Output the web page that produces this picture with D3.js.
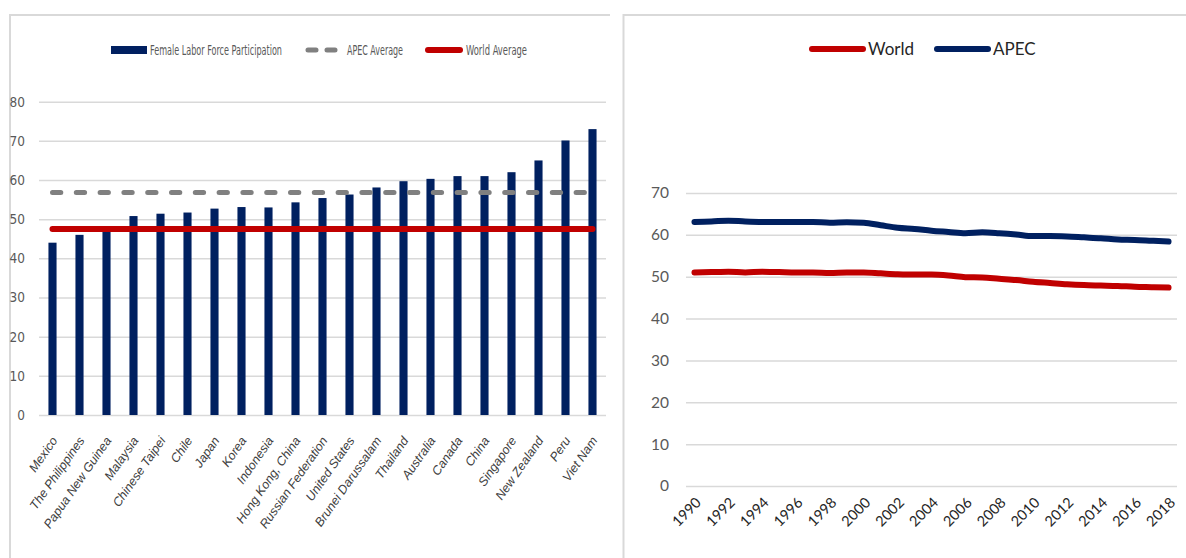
<!DOCTYPE html>
<html>
<head>
<meta charset="utf-8">
<script src="https://cdn.jsdelivr.net/npm/d3@7"></script>
<style>
  body { margin: 0; background: #fff; }
  svg { display: block; }
  .narrow { font-family: "Liberation Sans Narrow", "DejaVu Sans Condensed", sans-serif; font-stretch: condensed; fill: #595959; }
  .calib { font-family: Lato, "Noto Sans", sans-serif; }
  .ital { font-family: "Liberation Sans", "DejaVu Sans", sans-serif; font-style: italic; }
</style>
</head>
<body>
<script>
////////////
/// DATA ///
////////////

// left chart: female labor force participation by economy
var countries = ["Mexico", "The Philippines", "Papua New Guinea", "Malaysia", "Chinese Taipei",
                 "Chile", "Japan", "Korea", "Indonesia", "Hong Kong, China", "Russian Federation",
                 "United States", "Brunei Darussalam", "Thailand", "Australia", "Canada", "China",
                 "Singapore", "New Zealand", "Peru", "Viet Nam"];
var femaleLFP = [44.0, 46.0, 47.6, 50.8, 51.4, 51.7, 52.7, 53.1, 53.0, 54.3, 55.4,
                 56.3, 58.1, 59.7, 60.3, 61.0, 61.0, 62.0, 65.0, 70.1, 73.0];
var apecAverage = 56.8;
var worldAverage = 47.5;
var barTicks = [0, 10, 20, 30, 40, 50, 60, 70, 80];

// right chart: trend 1990-2018
var years = [1990, 1991, 1992, 1993, 1994, 1995, 1996, 1997, 1998, 1999, 2000, 2001, 2002, 2003, 2004,
             2005, 2006, 2007, 2008, 2009, 2010, 2011, 2012, 2013, 2014, 2015, 2016, 2017, 2018];
var worldSeries = [51.0, 51.1, 51.2, 51.0, 51.2, 51.1, 51.0, 51.0, 50.9, 51.0, 51.0, 50.8, 50.6, 50.5, 50.5,
                   50.3, 49.9, 49.8, 49.5, 49.2, 48.8, 48.5, 48.2, 48.0, 47.9, 47.8, 47.6, 47.5, 47.4];
var apecSeries = [63.1, 63.2, 63.4, 63.2, 63.1, 63.1, 63.1, 63.1, 62.9, 63.0, 62.9, 62.3, 61.7, 61.4, 61.0,
                  60.7, 60.4, 60.6, 60.4, 60.1, 59.7, 59.7, 59.6, 59.4, 59.2, 58.9, 58.8, 58.6, 58.4];
var lineTicks = [0, 10, 20, 30, 40, 50, 60, 70];
var yearLabels = years.filter(function(y) { return y % 2 === 0; });

var navy = "#002060", red = "#C00000", gray = "#808080", grid = "#D9D9D9";

/////////////////
/// SETUP SVG ///
/////////////////

var svg = d3.select("body").append("svg")
    .attr("width", 1186)
    .attr("height", 558);

// panel borders
svg.append("path")
    .attr("d", "M10,558V15H610")
    .attr("fill", "none").attr("stroke", grid).attr("stroke-width", 2);
svg.append("path")
    .attr("d", "M623.5,558V15H1186")
    .attr("fill", "none").attr("stroke", grid).attr("stroke-width", 2);

/////////////////
/// BAR CHART ///
/////////////////

var xBar = d3.scaleBand().domain(countries).range([39, 606]).paddingInner(0.7).paddingOuter(0.35),
    yBar = d3.scaleLinear().domain([0, 80]).range([415, 101.7]);

var barChart = svg.append("g").attr("id", "barChart");

var yAxisBar = barChart.append("g")
    .attr("transform", "translate(39,0)")
    .call(d3.axisLeft(yBar).tickValues(barTicks).tickSize(-567).tickPadding(14));
yAxisBar.select(".domain").remove();
yAxisBar.selectAll("line").attr("stroke", grid).attr("stroke-width", 1.5);
yAxisBar.selectAll("text")
    .attr("class", "narrow")
    .style("font-size", "13.5px");

barChart.selectAll(".bar")
    .data(femaleLFP)
    .enter().append("rect")
    .attr("class", "bar")
    .attr("x", function(d, i) { return xBar(countries[i]); })
    .attr("y", function(d) { return yBar(d); })
    .attr("width", xBar.bandwidth())
    .attr("height", function(d) { return yBar(0) - yBar(d); })
    .attr("fill", navy);

function center(c) { return xBar(c) + xBar.bandwidth() / 2; }
var first = countries[0], last = countries[countries.length - 1];

// average lines
barChart.append("line")
    .attr("x1", center(first)).attr("x2", center(last) - 4)
    .attr("y1", yBar(apecAverage)).attr("y2", yBar(apecAverage))
    .attr("stroke", gray).attr("stroke-width", 5)
    .attr("stroke-linecap", "round")
    .attr("stroke-dasharray", "8.3,15.5");

barChart.append("line")
    .attr("x1", center(first)).attr("x2", center(last))
    .attr("y1", yBar(worldAverage)).attr("y2", yBar(worldAverage))
    .attr("stroke", red).attr("stroke-width", 6)
    .attr("stroke-linecap", "round");

// category labels
barChart.selectAll(".country")
    .data(countries)
    .enter().append("text")
    .attr("class", "country ital")
    .attr("transform", function(d) { return "translate(" + (center(d) + 2) + ",438) rotate(-55)"; })
    .attr("text-anchor", "end")
    .attr("dy", "0.35em")
    .style("font-size", "12.5px")
    .style("font-style", "italic")
    .attr("fill", "#404040")
    .text(function(d) { return d; });

// legend
var legBar = barChart.append("g").attr("class", "legend");
legBar.append("rect").attr("x", 111).attr("y", 46).attr("width", 36).attr("height", 8).attr("fill", navy);
legBar.append("text").attr("class", "narrow").attr("x", 150).attr("y", 55)
    .attr("textLength", 132).attr("lengthAdjust", "spacingAndGlyphs")
    .style("font-size", "14px").text("Female Labor Force Participation");
legBar.append("line").attr("x1", 308).attr("x2", 341).attr("y1", 50).attr("y2", 50)
    .attr("stroke", gray).attr("stroke-width", 5).attr("stroke-linecap", "round")
    .attr("stroke-dasharray", "8,11");
legBar.append("text").attr("class", "narrow").attr("x", 347).attr("y", 55)
    .attr("textLength", 56).attr("lengthAdjust", "spacingAndGlyphs")
    .style("font-size", "14px").text("APEC Average");
legBar.append("line").attr("x1", 428).attr("x2", 460).attr("y1", 50).attr("y2", 50)
    .attr("stroke", red).attr("stroke-width", 6).attr("stroke-linecap", "round");
legBar.append("text").attr("class", "narrow").attr("x", 466).attr("y", 55)
    .attr("textLength", 61).attr("lengthAdjust", "spacingAndGlyphs")
    .style("font-size", "14px").text("World Average");

//////////////////
/// LINE CHART ///
//////////////////

var xLine = d3.scaleBand().domain(years).range([686, 1177]),
    yLine = d3.scaleLinear().domain([0, 70]).range([486, 193]);

var trendChart = svg.append("g").attr("id", "trendChart");

var yAxisLine = trendChart.append("g")
    .attr("transform", "translate(686,0)")
    .call(d3.axisLeft(yLine).tickValues(lineTicks).tickSize(-491).tickPadding(17));
yAxisLine.select(".domain").remove();
yAxisLine.selectAll("line").attr("stroke", grid).attr("stroke-width", 1.5);
yAxisLine.selectAll("text")
    .attr("class", "calib")
    .attr("fill", "#595959")
    .style("font-size", "15.5px");

trendChart.selectAll(".year")
    .data(yearLabels)
    .enter().append("text")
    .attr("class", "year calib")
    .attr("transform", function(d) {
      return "translate(" + (xLine(d) + xLine.bandwidth() / 2 + 4) + ",500) rotate(-45)";
    })
    .attr("text-anchor", "end")
    .attr("dy", "0.35em")
    .attr("fill", "#262626")
    .style("font-size", "14.5px")
    .text(function(d) { return d; });

var line = d3.line()
    .x(function(d, i) { return xLine(years[i]) + xLine.bandwidth() / 2; })
    .y(function(d) { return yLine(d); })
    .curve(d3.curveMonotoneX);

trendChart.append("path")
    .datum(apecSeries)
    .attr("fill", "none").attr("stroke", navy).attr("stroke-width", 6)
    .attr("stroke-linecap", "round").attr("stroke-linejoin", "round")
    .attr("d", line);

trendChart.append("path")
    .datum(worldSeries)
    .attr("fill", "none").attr("stroke", red).attr("stroke-width", 6)
    .attr("stroke-linecap", "round").attr("stroke-linejoin", "round")
    .attr("d", line);

// legend
var legLine = trendChart.append("g").attr("class", "legend");
legLine.append("line").attr("x1", 812).attr("x2", 863).attr("y1", 49).attr("y2", 49)
    .attr("stroke", red).attr("stroke-width", 6).attr("stroke-linecap", "round");
legLine.append("text").attr("class", "calib").attr("x", 868).attr("y", 55)
    .attr("fill", "#262626").style("font-size", "17px").text("World");
legLine.append("line").attr("x1", 937).attr("x2", 988).attr("y1", 49).attr("y2", 49)
    .attr("stroke", navy).attr("stroke-width", 6).attr("stroke-linecap", "round");
legLine.append("text").attr("class", "calib").attr("x", 993).attr("y", 55)
    .attr("fill", "#262626").style("font-size", "17px").text("APEC");
</script>
</body>
</html>
